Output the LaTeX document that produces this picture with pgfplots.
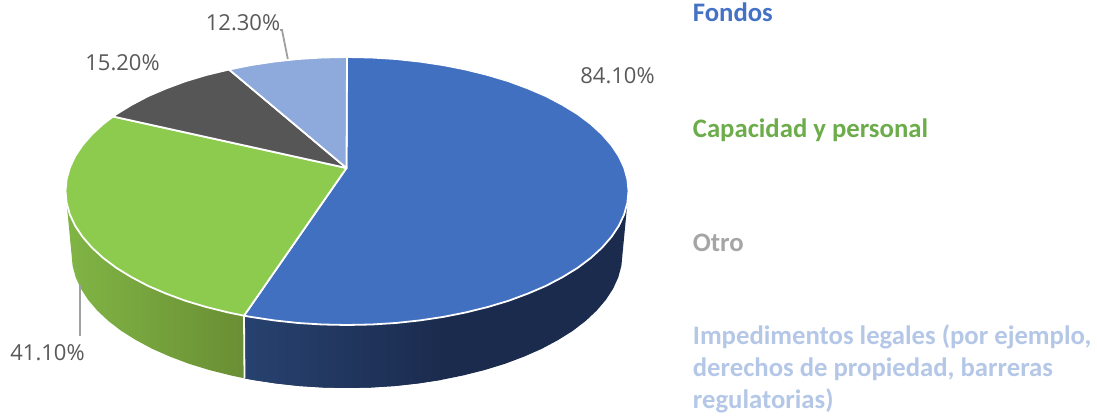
\documentclass[border=0pt]{standalone}
\usepackage{pgfplots}
\pgfplotsset{compat=1.18}
\usepackage{fontspec}
\setmainfont{Carlito}
\newfontfamily\lab{Open Sans}
\definecolor{cblue}{HTML}{4270C0}
\definecolor{cgreen}{HTML}{8DCB4F}
\definecolor{cdark}{HTML}{565656}
\definecolor{clight}{HTML}{8EA9DB}
\definecolor{tblue}{HTML}{4472C4}
\definecolor{tgreen}{HTML}{6CAC4A}
\definecolor{tgrey}{HTML}{A5A5A5}
\definecolor{tlight}{HTML}{B4C7E7}
\definecolor{wallA}{HTML}{27426F}
\definecolor{wallB}{HTML}{1B2B4E}
\definecolor{wallC}{HTML}{80B545}
\definecolor{wallD}{HTML}{6A8E34}
\definecolor{leader}{HTML}{A0A0A0}
\definecolor{labc}{HTML}{595959}
\begin{document}
\begin{tikzpicture}[
    lb/.style={font=\lab\fontsize{22}{24}\selectfont, text=labc, anchor=center, inner sep=0pt},
    lg/.style={font=\fontsize{26.7}{30}\selectfont\bfseries, anchor=base west, inner sep=0pt},
  ]
\begin{axis}[
    name=pie, scale only axis, hide axis, clip=false,
    width=1097pt, height=417pt,
    xmin=0, xmax=1097, ymin=0, ymax=417, y dir=reverse,
    every axis plot/.append style={no markers},
  ]
  % side wall, blue part
  \addplot[fill=wallB, draw=none] coordinates {
    (627.4,202.7) (624.2,214.3) (618.9,225.7) (611.5,236.8) (602.1,247.6) (590.8,258) (577.6,267.9)
    (562.6,277.1) (546.1,285.8) (527.9,293.6) (508.5,300.8) (487.8,307) (466,312.4) (443.3,316.9)
    (419.9,320.4) (395.9,323) (371.5,324.5) (347,325) (322.5,324.5) (298.1,323) (274.1,320.4)
    (250.7,316.9) (244,315.7) (244.5,378.3) (252.8,379.9) (275.7,383.4) (299.1,386) (323,387.5)
    (347,388) (371,387.5) (394.9,386) (418.3,383.4) (441.2,379.9) (463.4,375.4) (484.8,370)
    (505,363.8) (524.1,356.6) (541.8,348.8) (558,340.1) (572.7,330.9) (585.6,321) (596.7,310.6)
    (605.9,299.8) (613.1,288.7) (618.3,277.3) (621.4,265.7) (622.5,254)
  } --cycle;
  \addplot[left color=wallA, right color=wallB, draw=none] coordinates {
    (443.3,316.9) (419.9,320.4) (395.9,323) (371.5,324.5) (347,325) (322.5,324.5) (298.1,323)
    (274.1,320.4) (250.7,316.9) (244,315.7) (244.5,378.3) (252.8,379.9) (275.7,383.4) (299.1,386)
    (323,387.5) (347,388) (371,387.5) (394.9,386) (418.3,383.4) (441.2,379.9)
  } --cycle;
  % side wall, green part
  \addplot[left color=wallC, right color=wallD, draw=none] coordinates {
    (66.6,202.7) (69.8,214.3) (75.1,225.7) (82.5,236.8) (91.9,247.6) (103.2,258) (116.4,267.9)
    (131.4,277.1) (147.9,285.8) (166.1,293.6) (185.5,300.8) (206.2,307) (228,312.4) (244,315.7)
    (244.5,378.3) (230.6,375.4) (209.2,370) (189,363.8) (169.9,356.6) (152.2,348.8) (136,340.1)
    (121.3,330.9) (108.4,321) (97.3,310.6) (88.1,299.8) (80.9,288.7) (75.7,277.3) (72.6,265.7)
    (71.5,254)
  } --cycle;
  \addplot[white, line width=1.8pt] coordinates {(244,315.7) (244.5,378.3)};
  % leader lines
  \addplot[leader, line width=1.8pt] coordinates {(280,30) (282,30) (288,60)};
  \addplot[leader, line width=1.8pt] coordinates {(80.3,285) (80.3,336)};
  % top face
  \addplot[fill=cblue, draw=white, line width=1.8pt, line join=round] coordinates {
    (346.5,168) (347,57) (371.5,57.5) (395.9,59) (419.9,61.6) (443.3,65.1) (466,69.6) (487.8,75)
    (508.5,81.2) (527.9,88.4) (546.1,96.2) (562.6,104.9) (577.6,114.1) (590.8,124) (602.1,134.4)
    (611.5,145.2) (618.9,156.3) (624.2,167.7) (627.4,179.3) (628.5,191) (627.4,202.7) (624.2,214.3)
    (618.9,225.7) (611.5,236.8) (602.1,247.6) (590.8,258) (577.6,267.9) (562.6,277.1) (546.1,285.8)
    (527.9,293.6) (508.5,300.8) (487.8,307) (466,312.4) (443.3,316.9) (419.9,320.4) (395.9,323)
    (371.5,324.5) (347,325) (322.5,324.5) (298.1,323) (274.1,320.4) (250.7,316.9) (244,315.7)
  } --cycle;
  \addplot[fill=cgreen, draw=white, line width=1.8pt, line join=round] coordinates {
    (346.5,168) (244,315.7) (228,312.4) (206.2,307) (185.5,300.8) (166.1,293.6) (147.9,285.8)
    (131.4,277.1) (116.4,267.9) (103.2,258) (91.9,247.6) (82.5,236.8) (75.1,225.7) (69.8,214.3)
    (66.6,202.7) (65.5,191) (66.6,179.3) (69.8,167.7) (75.1,156.3) (82.5,145.2) (91.9,134.4)
    (103.2,124) (113,116.5)
  } --cycle;
  \addplot[fill=cdark, draw=white, line width=1.8pt, line join=round] coordinates {
    (346.5,168) (113,116.5) (116.4,114.1) (131.4,104.9) (147.9,96.2) (166.1,88.4) (185.5,81.2)
    (206.2,75) (229,69.5)
  } --cycle;
  \addplot[fill=clight, draw=white, line width=1.8pt, line join=round] coordinates {
    (346.5,168) (229,69.5) (250.7,65.1) (274.1,61.6) (298.1,59) (322.5,57.5) (347,57)
  } --cycle;
  % labels
  \node[lb] at (axis cs:243,23) {12.30\%};
  \node[lb] at (axis cs:122.5,63) {15.20\%};
  \node[lb] at (axis cs:617.5,76) {84.10\%};
  \node[lb] at (axis cs:47.5,353) {41.10\%};
  \node[lg, text=tblue] at (axis cs:692.7,22) {Fondos};
  \node[lg, text=tgreen] at (axis cs:692.7,137) {Capacidad y personal};
  \node[lg, text=tgrey] at (axis cs:692.7,251) {Otro};
  \node[lg, text=tlight] at (axis cs:692.7,344) {Impedimentos legales (por ejemplo,};
  \node[lg, text=tlight] at (axis cs:692.7,376.5) {derechos de propiedad, barreras};
  \node[lg, text=tlight] at (axis cs:692.7,408.5) {regulatorias)};
\end{axis}
\pgfresetboundingbox
\useasboundingbox (pie.south west) rectangle (pie.north east);
\end{tikzpicture}
\end{document}
